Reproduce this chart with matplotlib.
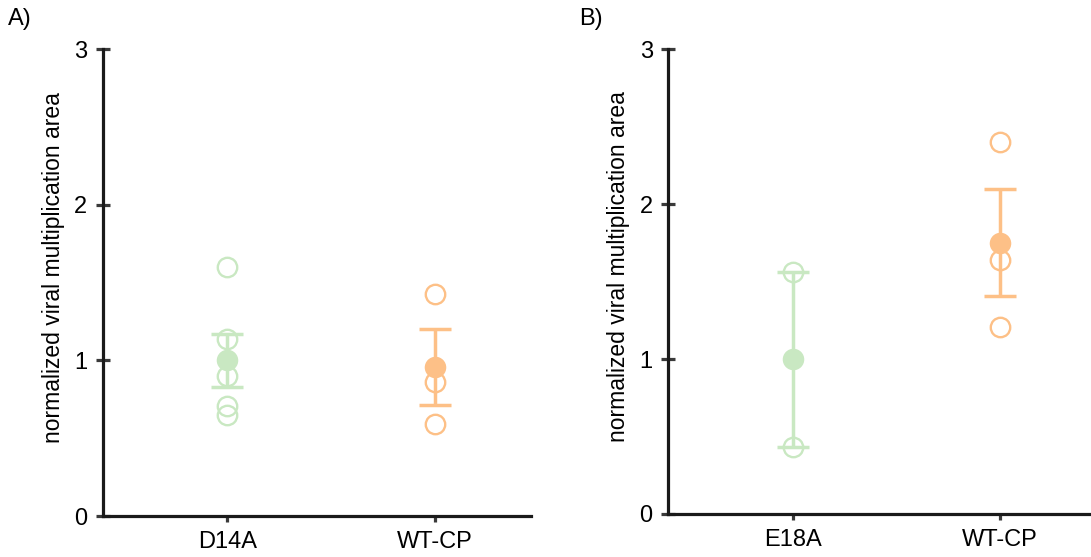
import numpy as np
import matplotlib.pyplot as plt

plt.rcParams['font.family'] = ['Liberation Sans', 'DejaVu Sans']

# panel A
groups_a = ['D14A', 'WT-CP']
points_a = [[1.60, 1.14, 0.90, 0.71, 0.65], [1.43, 0.86, 0.59]]
means_a = [1.00, 0.96]
sem_a = [0.17, 0.245]

# panel B
groups_b = ['E18A', 'WT-CP']
points_b = [[1.565, 0.435], [2.40, 1.64, 1.21]]
means_b = [1.00, 1.75]
sem_b = [0.565, 0.345]

colors = ['#c9e8c2', '#fdc087']
ylabel = 'normalized viral multiplication area'
fs = 17

fig = plt.figure(figsize=(10.91, 5.57), dpi=100)
ax_a = fig.add_axes([0.0944, 0.0736, 0.3923, 0.8379])
ax_b = fig.add_axes([0.6126, 0.0772, 0.3923, 0.8343])


def draw_panel(ax, groups, points, means, sems):
    for i, (pts, m, s) in enumerate(zip(points, means, sems)):
        c = colors[i]
        ax.plot([i] * len(pts), pts, 'o', ms=14, mfc='none', mec=c, mew=1.7, zorder=2)
        ax.errorbar(i, m, yerr=s, fmt='o', ms=15.5, color=c, mec='none',
                    elinewidth=2.5, capsize=11.5, capthick=2.5, zorder=3)
    ax.set_xlim(-0.6, 1.465)
    ax.set_ylim(0, 3)
    ax.set_xticks(range(len(groups)))
    ax.set_xticklabels(groups, fontsize=fs)
    ax.set_yticks([0, 1, 2, 3])
    ax.set_yticklabels(['0', '1', '2', '3'], fontsize=fs)
    for side in ['top', 'right']:
        ax.spines[side].set_visible(False)
    for side in ['left', 'bottom']:
        ax.spines[side].set_linewidth(2.3)
        ax.spines[side].set_color('#1a1a1a')
    ax.tick_params(axis='y', direction='inout', length=10.5, width=2.3,
                   color='#3a3a3a', pad=6)
    ax.tick_params(axis='x', direction='out', length=4.5, width=2.3,
                   color='#3a3a3a', pad=6)
    ax.set_ylabel(ylabel, fontsize=16.5)
    ax.yaxis.set_label_coords(-0.089, 0.533)


draw_panel(ax_a, groups_a, points_a, means_a, sem_a)
draw_panel(ax_b, groups_b, points_b, means_b, sem_b)

fig.text(8 / 1091, 1 - 8 / 557, 'A)', fontsize=fs, va='top', ha='left')
fig.text(579 / 1091, 1 - 8 / 557, 'B)', fontsize=fs, va='top', ha='left')

fig.savefig('out.png', dpi=100)
